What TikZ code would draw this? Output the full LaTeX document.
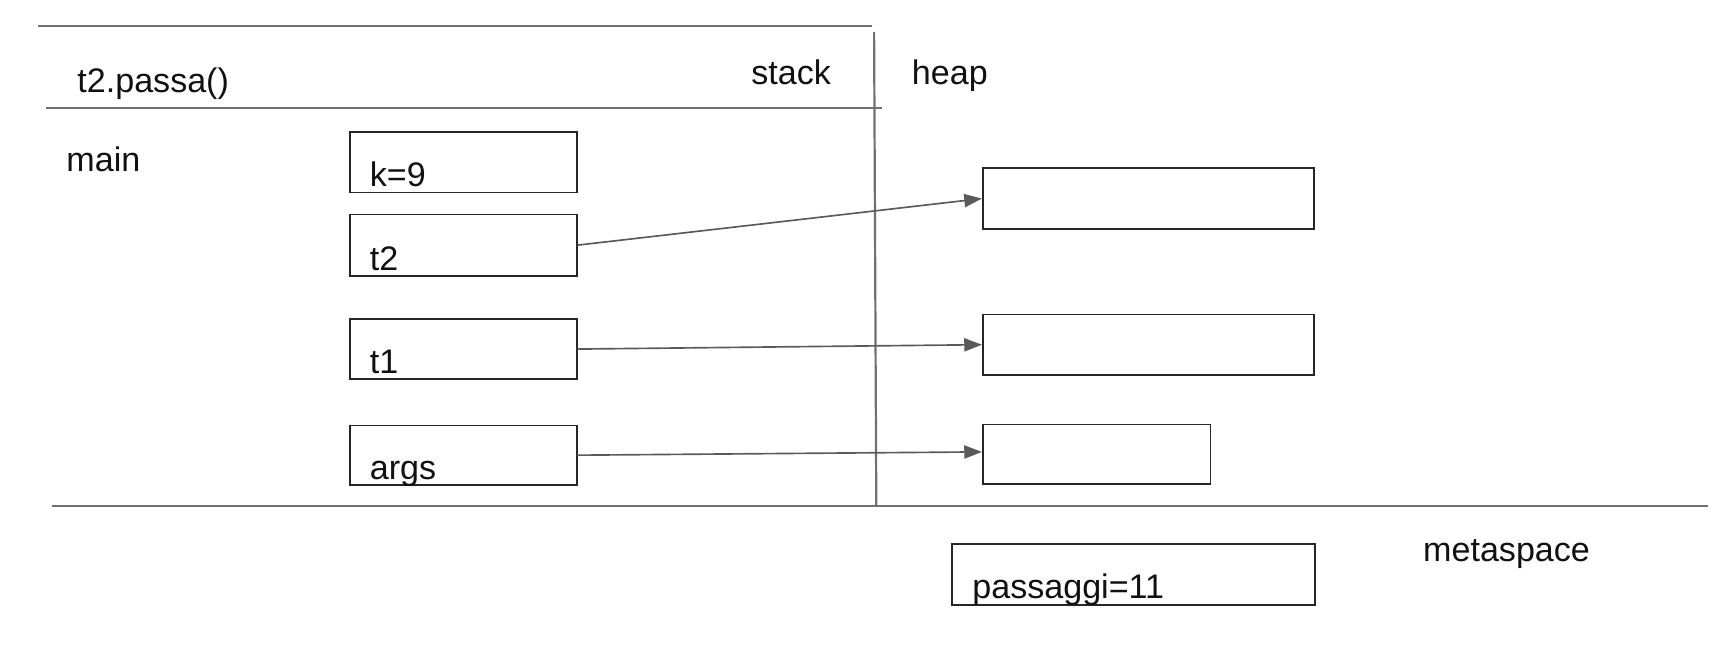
\documentclass[tikz,border=0pt]{standalone}
\usepackage{fontspec}
\setmainfont{Liberation Sans}
\usetikzlibrary{arrows.meta}
\definecolor{sepgray}{HTML}{707070}
\definecolor{arrgray}{HTML}{5A5A5A}
\definecolor{boxdark}{HTML}{262626}
\definecolor{txtdark}{HTML}{111111}
\begin{document}
\begin{tikzpicture}[x=0.5pt,y=-0.5pt,
  sep/.style={draw=sepgray,line width=1pt},
  membox/.style={draw=boxdark,line width=0.8pt,inner sep=0pt,outer sep=0pt,anchor=north west,minimum height=27.5pt},
  lbl/.style={text=txtdark,inner sep=0pt,anchor=base west,font=\fontsize{15.5}{18}\selectfont},
  ref/.style={draw=arrgray,line width=0.75pt,-{Triangle[length=8pt,width=6pt]},shorten >=0.5pt}]
\useasboundingbox (0,0) rectangle (1568,592);
% separators
\coordinate (tl1) at (35,24); \coordinate (tr1) at (793,24);
\coordinate (tl2) at (42,98); \coordinate (tr2) at (802,98);
\coordinate (vt) at (795,29); \coordinate (vb) at (797,461);
\coordinate (bl) at (47,460); \coordinate (br) at (1553,460);
\draw[sep] (tl1) -- (tr1);
\draw[sep] (tl2) -- (tr2);
\draw[sep] (vt) -- (vb);
\draw[sep] (bl) -- (br);
% labels
\node[lbl] (call) at (70,84) {t2.passa()};
\node[lbl] (stack) at (683,77) {stack};
\node[lbl] (heap) at (829,77) {heap};
\node[lbl] (main) at (60,156) {main};
\node[lbl] (meta) at (1294,511) {metaspace};
% stack boxes
\node[membox,minimum width=103.5pt] (k) at (318,120) {};
\node[membox,minimum width=103.5pt,minimum height=28pt] (t2) at (318,195) {};
\node[membox,minimum width=103.5pt] (t1) at (318,290) {};
\node[membox,minimum width=103.5pt,minimum height=27pt] (args) at (318,387) {};
\node[lbl] (ktxt) at (336,170) {k=9};
\node[lbl] (t2txt) at (336,246) {t2};
\node[lbl] (t1txt) at (336,340) {t1};
\node[lbl] (argstxt) at (336,436) {args};
% heap boxes
\node[membox,minimum width=150.5pt] (h1) at (894,153) {};
\node[membox,minimum width=150.5pt] (h2) at (894,286) {};
\node[membox,minimum width=103.5pt,minimum height=27pt] (h3) at (894,386) {};
% metaspace box
\node[membox,minimum width=165pt] (pass) at (866,495) {};
\node[lbl] (passtxt) at (884,544) {passaggi=11};
% references
\draw[ref] (t2.east) -- (h1.west);
\draw[ref] (t1.east) -- (h2.west);
\draw[ref] (args.east) -- ([yshift=1pt]h3.west);
\end{tikzpicture}
\end{document}
